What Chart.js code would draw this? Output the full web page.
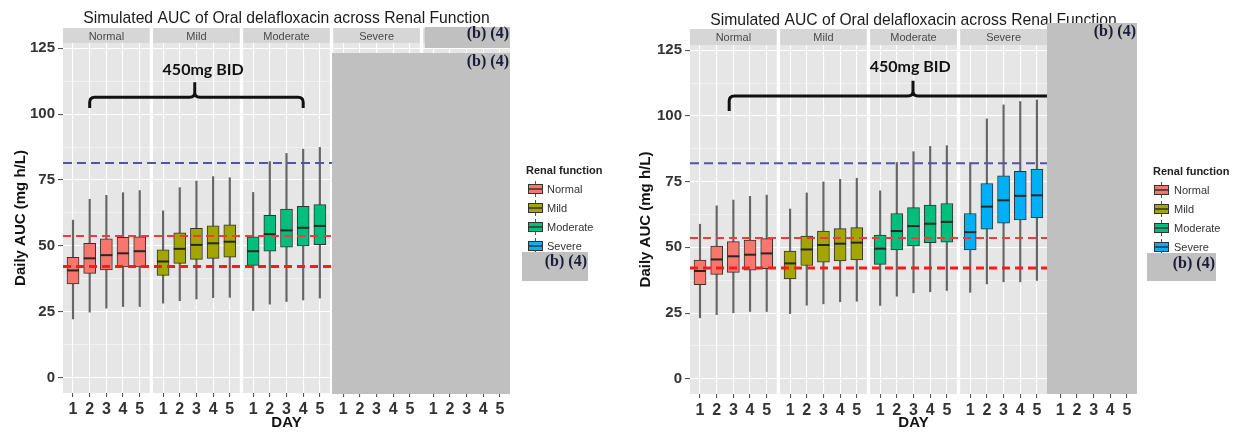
<!DOCTYPE html>
<html>
<head>
<meta charset="utf-8">
<title>Simulated AUC of Oral delafloxacin across Renal Function</title>
<script src="https://cdn.jsdelivr.net/npm/chart.js@4.4.0/dist/chart.umd.min.js"></script>
<style>
  html, body { margin: 0; padding: 0; background: #fff; }
  .row { display: flex; width: 1238px; height: 432px; }
  .cell { width: 619px; height: 432px; }
  canvas { display: block; }
</style>
</head>
<body>
<div class="row">
  <div class="cell"><canvas id="aucLeft" width="619" height="432"></canvas></div>
  <div class="cell"><canvas id="aucRight" width="619" height="432"></canvas></div>
</div>
<script>
// Categories
const groups = ['Normal', 'Mild', 'Moderate', 'Severe'];
const facetNames = ['Normal', 'Mild', 'Moderate', 'Severe', ''];
const dayLabels = ['1', '2', '3', '4', '5'];
const yLabelTicks = [0, 25, 50, 75, 100, 125];

// Left panel: boxplot stats per facet/day (Normal, Mild, Moderate x days 1-5)
const leftMin = [22.3, 24.9, 26.4, 27.0, 27.0,  28.3, 29.2, 29.9, 30.4, 30.5,  25.5, 27.9, 28.9, 29.5, 30.2];
const leftQ1  = [35.6, 39.6, 40.9, 42.0, 42.0,  38.8, 43.4, 44.9, 45.3, 45.7,  42.6, 48.0, 49.5, 50.0, 50.5];
const leftMed = [40.7, 45.3, 46.5, 47.2, 48.0,  44.1, 48.9, 50.4, 51.0, 51.6,  48.0, 54.5, 55.9, 56.9, 57.6];
const leftQ3  = [45.7, 51.0, 52.7, 53.3, 53.5,  48.5, 55.0, 56.7, 57.6, 58.0,  53.5, 61.6, 64.0, 65.0, 65.7];
const leftMax = [59.8, 67.7, 69.2, 70.2, 71.0,  63.3, 72.1, 74.6, 76.3, 75.9,  70.3, 82.0, 85.1, 86.7, 87.4];
const leftRefs = [81.5, 53.8, 42.2];

// Right panel: Normal, Mild, Moderate, Severe x days 1-5
const rightMin = [23.2, 24.4, 25.1, 25.6, 25.6,  24.8, 28.0, 28.5, 29.3, 29.5,  27.9, 31.4, 32.7, 33.1, 33.6,  32.9, 36.1, 36.9, 36.9, 37.4];
const rightQ1  = [35.8, 39.7, 40.5, 41.3, 41.9,  38.0, 43.1, 44.4, 44.8, 45.2,  43.5, 49.0, 50.5, 51.8, 52.0,  49.0, 56.9, 59.2, 60.4, 61.3];
const rightMed = [41.0, 45.4, 46.6, 47.2, 47.7,  43.9, 49.2, 50.9, 51.4, 51.8,  49.5, 56.2, 58.1, 59.0, 59.7,  55.8, 65.5, 67.9, 69.6, 69.8];
const rightQ3  = [45.2, 50.5, 52.2, 52.8, 53.3,  48.6, 54.3, 56.2, 57.1, 57.5,  54.7, 62.9, 65.1, 66.1, 66.7,  62.9, 74.3, 77.2, 78.9, 79.8];
const rightMax = [58.8, 65.8, 68.0, 69.4, 69.9,  64.6, 70.7, 74.9, 75.9, 76.3,  71.5, 82.3, 86.4, 88.4, 88.7,  82.3, 98.9, 104.2, 105.5, 106.1];
const rightRefs = [82.0, 53.6, 42.1];

const groupColors = ['#F8766D', '#A3A500', '#00BF7D', '#00B0F6'];
const refStyles = [
  { color: '#5454A6', width: 2, dash: [9, 5] },
  { color: '#F23A3A', width: 2, dash: [8, 5] },
  { color: '#FF1A1A', width: 3, dash: [8, 5] }
];

// facet layout on a single linear x axis
const facetPitch = 5.4;
const xMin = 0.4;
const xMax = 4 * facetPitch + 5.6;
const dayPos = (f, d) => f * facetPitch + d;
const xTickValues = [];
facetNames.forEach((_, f) => dayLabels.forEach((_, d) => xTickValues.push(dayPos(f, d + 1))));

const FONT = '"Liberation Sans", Arial, sans-serif';

function drawBackdrop(chart, p) {
    const { ctx, chartArea: a, scales: { x } } = chart;
    ctx.save();
    facetNames.forEach((name, f) => {
        const l = x.getPixelForValue(f * facetPitch + xMin);
        const r = x.getPixelForValue(f * facetPitch + 5.6);
        ctx.fillStyle = '#E6E6E6';
        ctx.fillRect(l, a.top, r - l, a.bottom - a.top);
        ctx.fillStyle = '#D6D6D6';
        ctx.fillRect(l, p.stripTop, r - l, a.top - p.stripTop);
        ctx.fillStyle = '#4a4a4a';
        ctx.font = '11px ' + FONT;
        ctx.textAlign = 'center';
        ctx.textBaseline = 'middle';
        ctx.fillText(name, (l + r) / 2, (p.stripTop + a.top) / 2 + 1);
    });
    ctx.fillStyle = '#1a1a1a';
    ctx.font = '15.7px ' + FONT;
    ctx.textAlign = 'center';
    ctx.textBaseline = 'middle';
    ctx.fillText('Simulated AUC of Oral delafloxacin across Renal Function', (a.left + a.right) / 2, p.titleY);
    ctx.restore();
}

function drawBrace(chart, b) {
    const { ctx, scales: { x, y } } = chart;
    const x0 = x.getPixelForValue(b.from), x1 = x.getPixelForValue(b.to), xt = x.getPixelForValue(b.tip);
    const yb = y.getPixelForValue(b.bar), ye = y.getPixelForValue(b.end), yt = y.getPixelForValue(b.top);
    const r = 5;
    ctx.save();
    ctx.beginPath();
    ctx.moveTo(x0, ye);
    ctx.lineTo(x0, yb + r);
    ctx.quadraticCurveTo(x0, yb, x0 + r, yb);
    ctx.lineTo(xt - r, yb);
    ctx.quadraticCurveTo(xt, yb, xt, yb - r);
    ctx.lineTo(xt, yt);
    ctx.moveTo(xt, yb - r);
    ctx.quadraticCurveTo(xt, yb, xt + r, yb);
    ctx.lineTo(x1 - r, yb);
    ctx.quadraticCurveTo(x1, yb, x1, yb + r);
    ctx.lineTo(x1, ye);
    ctx.lineWidth = 3;
    ctx.lineJoin = 'round';
    ctx.strokeStyle = '#111';
    ctx.stroke();
    ctx.fillStyle = '#111';
    ctx.font = 'bold 16px Lato, "Open Sans", sans-serif';
    ctx.textAlign = 'center';
    ctx.textBaseline = 'middle';
    ctx.fillText('450mg BID', x.getPixelForValue(b.textX), y.getPixelForValue(b.textY));
    ctx.restore();
}

function drawLegend(chart, lg) {
    const ctx = chart.ctx;
    ctx.save();
    ctx.textAlign = 'left';
    ctx.textBaseline = 'middle';
    ctx.fillStyle = '#222';
    ctx.font = 'bold 11px ' + FONT;
    ctx.fillText('Renal function', lg.x, lg.y);
    groups.forEach((g, k) => {
        const cy = lg.y + 18 + k * 19;
        const kx = lg.x + lg.key;
        ctx.strokeStyle = '#555';
        ctx.lineWidth = 1;
        ctx.beginPath();
        ctx.moveTo(kx + 7.5, cy - 8);
        ctx.lineTo(kx + 7.5, cy + 8);
        ctx.stroke();
        ctx.fillStyle = groupColors[k];
        ctx.fillRect(kx, cy - 5, 15, 10);
        ctx.strokeStyle = '#333';
        ctx.strokeRect(kx + 0.5, cy - 4.5, 14, 9);
        ctx.lineWidth = 1.5;
        ctx.beginPath();
        ctx.moveTo(kx, cy);
        ctx.lineTo(kx + 15, cy);
        ctx.stroke();
        ctx.fillStyle = '#333';
        ctx.font = '11px ' + FONT;
        ctx.fillText(g, lg.x + 21, cy + 1);
    });
    ctx.restore();
}

function drawRedactions(chart, list) {
    const ctx = chart.ctx;
    ctx.save();
    list.forEach(r => {
        ctx.fillStyle = '#C0C0C0';
        ctx.fillRect(r.x0, r.y0, r.x1 - r.x0, r.y1 - r.y0);
        ctx.fillStyle = '#1c1c3a';
        ctx.font = 'bold 16px "Liberation Serif", "DejaVu Serif", serif';
        ctx.textAlign = 'right';
        ctx.textBaseline = 'middle';
        ctx.fillText('(b) (4)', r.x1 - 1, r.ty);
    });
    ctx.restore();
}

function createAucChart(id, p) {
    const whiskers = [], boxes = [], medians = [], colors = [];
    p.min.forEach((lo, i) => {
        const f = Math.floor(i / 5);
        const x = dayPos(f, i % 5 + 1);
        whiskers.push({ x, y: [lo, p.max[i]] });
        boxes.push({ x, y: [p.q1[i], p.q3[i]] });
        medians.push({ x, y: p.med[i] });
        colors.push(groupColors[f]);
    });

    const refSets = p.refs.map((v, k) => ({
        type: 'line',
        data: [{ x: xMin, y: v }, { x: xMax, y: v }],
        borderColor: refStyles[k].color,
        borderWidth: refStyles[k].width,
        borderDash: refStyles[k].dash,
        pointRadius: 0,
        order: 0
    }));

    const ctx = document.getElementById(id).getContext('2d');
    return new Chart(ctx, {
        type: 'bar',
        data: {
            datasets: [
                { data: whiskers, backgroundColor: '#666', barThickness: 1.5, grouped: false, order: 3 },
                { data: boxes, backgroundColor: colors, borderColor: '#333', borderWidth: 1,
                  borderSkipped: false, barThickness: 12, grouped: false, order: 2 },
                { type: 'line', data: medians, showLine: false, pointStyle: 'line', pointRadius: 6,
                  pointBorderWidth: 2, pointBorderColor: '#262626', order: 1 },
                ...refSets
            ]
        },
        options: {
            responsive: false,
            animation: false,
            events: [],
            layout: { padding: { top: p.area.top, right: 619 - p.area.right, left: 0, bottom: 0 } },
            plugins: { legend: { display: false }, tooltip: { enabled: false } },
            scales: {
                x: {
                    type: 'linear',
                    min: xMin,
                    max: xMax,
                    offset: false,
                    afterBuildTicks: s => { s.ticks = xTickValues.map(v => ({ value: v })); },
                    afterFit: s => {
                        s.height = 432 - p.area.bottom;
                        s.paddingLeft = 0;
                        s.paddingRight = 0;
                    },
                    ticks: {
                        autoSkip: false,
                        maxRotation: 0,
                        padding: 3,
                        color: '#333',
                        font: { family: FONT, size: 16, weight: 'bold' },
                        callback: (v, i) => dayLabels[i % 5]
                    },
                    grid: { offset: false, color: '#fff', lineWidth: 1.1, tickColor: '#555', tickLength: 4 },
                    border: { display: false },
                    title: {
                        display: true, text: 'DAY', color: '#111',
                        font: { family: FONT, size: 15, weight: 'bold' },
                        padding: { top: 0, bottom: 0 }
                    }
                },
                y: {
                    min: -5.8,
                    max: 127,
                    afterBuildTicks: s => {
                        const t = [];
                        yLabelTicks.forEach(v => { t.push({ value: v }); t.push({ value: v + 12.5 }); });
                        s.ticks = t.filter(o => o.value <= 125);
                    },
                    afterFit: s => {
                        s.width = p.area.left;
                        s.paddingTop = 0;
                        s.paddingBottom = 0;
                    },
                    ticks: {
                        padding: 3,
                        color: '#333',
                        font: { family: FONT, size: 15, weight: 'bold' },
                        callback: v => (yLabelTicks.includes(v) ? v : '')
                    },
                    grid: {
                        color: '#fff',
                        lineWidth: c => (yLabelTicks.includes(c.tick.value) ? 1.1 : 0.5),
                        tickColor: c => (yLabelTicks.includes(c.tick.value) ? '#555' : 'rgba(0,0,0,0)'),
                        tickLength: 5
                    },
                    border: { display: false },
                    title: {
                        display: true, text: 'Daily AUC (mg h/L)', color: '#111',
                        font: { family: FONT, size: 15, weight: 'bold' },
                        padding: { top: p.yTitlePad, bottom: 0 }
                    }
                }
            }
        },
        plugins: [{
            id: 'facetDecor',
            beforeDraw: chart => drawBackdrop(chart, p),
            afterDraw: chart => {
                drawBrace(chart, p.brace);
                drawLegend(chart, p.legend);
                drawRedactions(chart, p.redactions);
            }
        }]
    });
}

createAucChart('aucLeft', {
    min: leftMin, q1: leftQ1, med: leftMed, q3: leftQ3, max: leftMax, refs: leftRefs,
    area: { left: 63, top: 43, right: 510, bottom: 393 },
    stripTop: 28, titleY: 19, yTitlePad: 12,
    brace: { from: 2, to: 14.8, tip: 8.3, bar: 106.4, end: 102.3, top: 112.1, textX: 8.8, textY: 116.7 },
    legend: { x: 526, y: 171, key: 2 },
    redactions: [
        { x0: 425, y0: 27, x1: 510, y1: 48, ty: 34 },
        { x0: 332, y0: 53, x1: 510, y1: 394, ty: 62 },
        { x0: 522, y0: 252, x1: 588, y1: 281, ty: 262 }
    ]
});

// the right-hand brace runs on under the redacted block
createAucChart('aucRight', {
    min: rightMin, q1: rightQ1, med: rightMed, q3: rightQ3, max: rightMax, refs: rightRefs,
    area: { left: 71, top: 45, right: 518, bottom: 394 },
    stripTop: 29, titleY: 21, yTitlePad: 18,
    brace: { from: 2.75, to: 25.5, tip: 13.77, bar: 107.6, end: 101.9, top: 113.4, textX: 13.6, textY: 118.7 },
    legend: { x: 534, y: 172, key: 1 },
    redactions: [
        { x0: 428, y0: 23, x1: 518, y1: 394, ty: 32 },
        { x0: 528, y0: 253, x1: 597, y1: 281, ty: 264 }
    ]
});
</script>
</body>
</html>
